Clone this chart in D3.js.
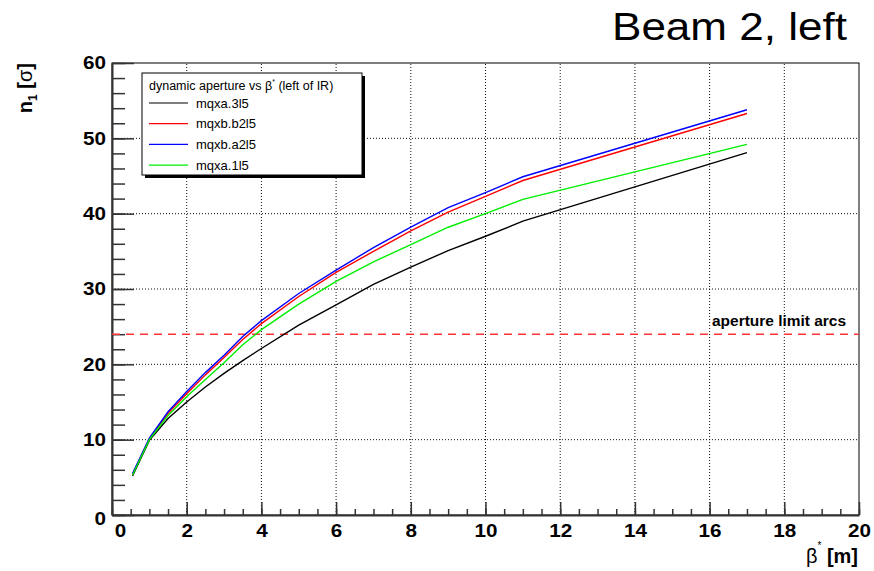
<!DOCTYPE html>
<html>
<head>
<meta charset="utf-8">
<script src="https://cdn.jsdelivr.net/npm/d3@7"></script>
<style>
  body { margin: 0; background: #fff; }
  text { font-family: "Liberation Sans", Arial, sans-serif; }
</style>
</head>
<body>
<div id="chart"></div>
<script>
// beta* values (m) where the aperture was computed
const betaStar = [0.55, 1, 1.5, 2, 2.5, 3, 3.5, 4, 5, 6, 7, 8, 9, 10, 11, 17];

// n1 [sigma] for each magnet
const mqxa3l5 = [5.2, 9.9, 12.8, 15.0, 17.0, 18.8, 20.5, 22.1, 25.2, 27.9, 30.6, 32.9, 35.1, 37.0, 39.0, 48.1];
const mqxbb2l5 = [5.4, 10.1, 13.5, 16.1, 18.6, 20.9, 23.3, 25.4, 29.0, 32.2, 35.0, 37.7, 40.2, 42.3, 44.4, 53.3];
const mqxba2l5 = [5.5, 10.2, 13.7, 16.4, 18.9, 21.2, 23.7, 25.8, 29.4, 32.5, 35.5, 38.2, 40.8, 42.8, 44.9, 53.8];
const mqxa1l5 = [5.3, 10.0, 13.2, 15.7, 18.0, 20.2, 22.6, 24.6, 28.0, 31.0, 33.6, 35.9, 38.2, 40.0, 41.9, 49.2];

const seriesNames = ["mqxa.3l5", "mqxb.b2l5", "mqxb.a2l5", "mqxa.1l5"];
const seriesColors = ["#000000", "#ff0000", "#0000ff", "#00ee00"];
const seriesValues = [mqxa3l5, mqxbb2l5, mqxba2l5, mqxa1l5];

const apertureLimit = 24;

const xMajorTicks = [0, 2, 4, 6, 8, 10, 12, 14, 16, 18, 20];
const yMajorTicks = [0, 10, 20, 30, 40, 50, 60];

const width = 874, height = 571;
const margin = { top: 63, right: 15, bottom: 56, left: 112 };

const svg = d3.select("#chart").append("svg")
  .attr("width", width)
  .attr("height", height);

const x = d3.scaleLinear().domain([0, 20]).range([margin.left, width - margin.right]);
const y = d3.scaleLinear().domain([0, 60]).range([height - margin.bottom, margin.top]);

// Grid (dotted)
const grid = svg.append("g").attr("stroke", "#111").attr("stroke-dasharray", "1,2").attr("stroke-width", 1);
grid.selectAll(".gx").data(xMajorTicks.slice(1, -1)).enter().append("line")
  .attr("x1", d => x(d)).attr("x2", d => x(d))
  .attr("y1", y(0)).attr("y2", y(60));
grid.selectAll(".gy").data(yMajorTicks.slice(1, -1)).enter().append("line")
  .attr("x1", x(0)).attr("x2", x(20))
  .attr("y1", d => y(d)).attr("y2", d => y(d));

// Frame
svg.append("rect")
  .attr("x", x(0)).attr("y", y(60))
  .attr("width", x(20) - x(0)).attr("height", y(0) - y(60))
  .attr("fill", "none").attr("stroke", "#000").attr("stroke-width", 1);

// Minor ticks
const xMinor = d3.range(0, 20.01, 0.5);
const yMinor = d3.range(0, 60.01, 2);
svg.append("g")
  .attr("transform", `translate(0,${y(0)})`)
  .call(d3.axisBottom(x).tickValues(xMinor).tickSizeInner(-6).tickSizeOuter(0).tickFormat(""))
  .call(g => g.selectAll("line").attr("stroke", "#333").attr("stroke-width", 1.5))
  .call(g => g.select(".domain").remove());
svg.append("g")
  .attr("transform", `translate(${x(0)},0)`)
  .call(d3.axisLeft(y).tickValues(yMinor).tickSizeInner(-13).tickSizeOuter(0).tickFormat(""))
  .call(g => g.selectAll("line").attr("stroke", "#333").attr("stroke-width", 1.5))
  .call(g => g.select(".domain").remove());

// Major axes
const xAxis = svg.append("g")
  .attr("transform", `translate(0,${y(0)})`)
  .call(d3.axisBottom(x).tickValues(xMajorTicks).tickSizeInner(-13).tickSizeOuter(0).tickPadding(9).tickFormat(d3.format("d")));
const yAxis = svg.append("g")
  .attr("transform", `translate(${x(0)},0)`)
  .call(d3.axisLeft(y).tickValues(yMajorTicks).tickSizeInner(-22).tickSizeOuter(0).tickPadding(6).tickFormat(d3.format("d")));

[xAxis, yAxis].forEach(a => {
  a.select(".domain").attr("stroke", "#333").attr("stroke-width", 2);
  a.selectAll(".tick line").attr("stroke", "#333").attr("stroke-width", 1.5);
  a.selectAll(".tick text")
    .attr("fill", "#000")
    .attr("textLength", d => String(d).length * 11.5)
    .attr("lengthAdjust", "spacingAndGlyphs")
    .style("font-size", "18px")
    .style("font-weight", "bold")
    .style("font-family", "'Liberation Sans', Arial, sans-serif");
});
xAxis.selectAll(".tick text").filter(d => d === 0).attr("x", 8);
yAxis.selectAll(".tick text").filter(d => d === 0).attr("y", 4);

// Aperture limit line
svg.append("line")
  .attr("x1", x(0)).attr("x2", x(20))
  .attr("y1", y(apertureLimit)).attr("y2", y(apertureLimit))
  .attr("stroke", "#ff3333").attr("stroke-width", 1.5)
  .attr("stroke-dasharray", "8,6");
svg.append("text")
  .attr("x", 712).attr("y", y(apertureLimit) - 8)
  .attr("textLength", 134).attr("lengthAdjust", "spacingAndGlyphs")
  .style("font-size", "14px").style("font-weight", "bold")
  .text("aperture limit arcs");

// Curves
const line = d3.line()
  .x((d, i) => x(betaStar[i]))
  .y(d => y(d));
svg.append("g").selectAll("path").data(seriesValues).enter().append("path")
  .attr("fill", "none")
  .attr("stroke", (d, i) => seriesColors[i])
  .attr("stroke-width", 1.4)
  .attr("d", line);

// Legend
const lg = svg.append("g").attr("transform", "translate(142,73)");
lg.append("rect").attr("x", 3).attr("y", 3).attr("width", 220).attr("height", 102).attr("fill", "#000");
lg.append("rect").attr("x", 0).attr("y", 0).attr("width", 220).attr("height", 102)
  .attr("fill", "#fff").attr("stroke", "#000").attr("stroke-width", 1);
const lt = lg.append("text").attr("x", 7).attr("y", 17).style("font-size", "12.5px");
lt.append("tspan").text("dynamic aperture vs β");
lt.append("tspan").attr("dy", -6).style("font-size", "7px").text("*");
lt.append("tspan").attr("dy", 6).text(" (left of IR)");
seriesNames.forEach((name, i) => {
  const yy = 30 + i * 20.7;
  lg.append("line").attr("x1", 7).attr("x2", 46).attr("y1", yy).attr("y2", yy)
    .attr("stroke", seriesColors[i]).attr("stroke-width", 1.2);
  lg.append("text").attr("x", 54).attr("y", yy + 4.5)
    .style("font-size", "13px")
    .text(name);
});

// Title
svg.append("text")
  .attr("x", 612).attr("y", 40)
  .attr("textLength", 235).attr("lengthAdjust", "spacingAndGlyphs")
  .style("font-size", "38px")
  .text("Beam 2, left");

// X axis title
const xt = svg.append("text").attr("x", 858).attr("y", 563).attr("text-anchor", "end").style("font-size", "20px");
xt.append("tspan").text("β");
xt.append("tspan").attr("dy", -14).style("font-size", "10px").text("*");
xt.append("tspan").attr("dy", 14).style("font-weight", "bold").text(" [m]");

// Y axis title
const yt = svg.append("text")
  .attr("transform", "translate(32,63) rotate(-90)")
  .attr("text-anchor", "end")
  .style("font-size", "20px").style("font-weight", "bold");
yt.append("tspan").text("n");
yt.append("tspan").attr("dy", 5).style("font-size", "12px").text("1");
yt.append("tspan").attr("dy", -5).text(" [");
yt.append("tspan").style("font-weight", "normal").text("σ");
yt.append("tspan").text("]");
</script>
</body>
</html>
